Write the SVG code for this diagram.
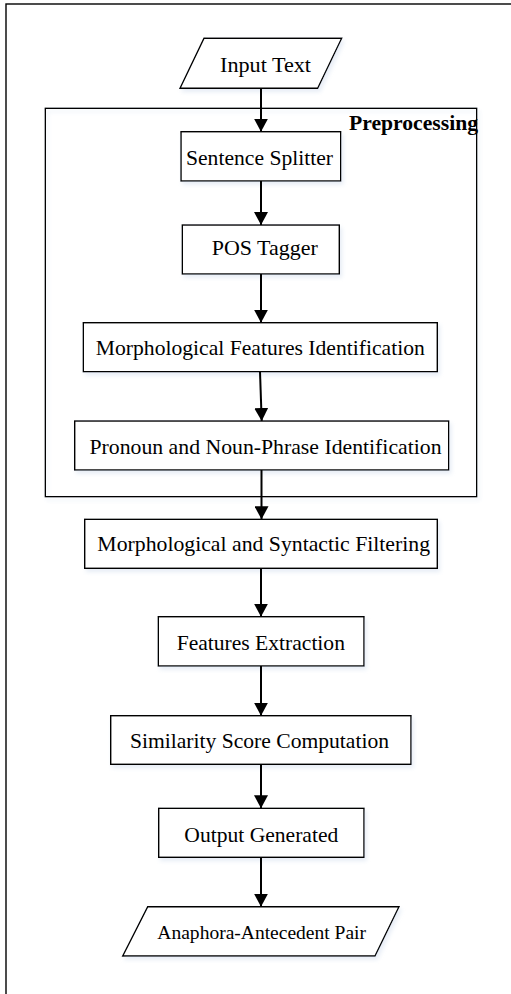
<svg xmlns="http://www.w3.org/2000/svg" width="511" height="994" viewBox="0 0 511 994">
  <style>
    .box { fill: #ffffff; stroke: #000000; stroke-width: 1.4; }
    .frame { fill: none; stroke: #000000; stroke-width: 1.4; }
    .lbl { font-family: "Liberation Serif", "Times New Roman", serif; font-size: 22px; fill: #000000; text-anchor: middle; }
    .small { font-size: 19px; }
    .title { font-family: "Liberation Serif", "Times New Roman", serif; font-size: 21px; font-weight: bold; fill: #000000; }
    .conn { stroke: #000000; stroke-width: 2; fill: none; marker-end: url(#arrow); }
  </style>
  <defs>
    <marker id="arrow" viewBox="0 0 13 14" refX="13" refY="7" markerWidth="13" markerHeight="14" markerUnits="userSpaceOnUse" orient="auto">
      <path d="M0,0 L13,7 L0,14 Z" fill="#000000"/>
    </marker>
    <filter id="shadow" x="-10%" y="-20%" width="125%" height="150%">
      <feGaussianBlur in="SourceAlpha" stdDeviation="2"/>
      <feOffset dx="2" dy="3" result="b"/>
      <feFlood flood-color="#c9d6ea" flood-opacity="0.45"/>
      <feComposite in2="b" operator="in"/>
      <feMerge><feMergeNode/><feMergeNode in="SourceGraphic"/></feMerge>
    </filter>
  </defs>

  <rect x="0" y="0" width="511" height="994" fill="#ffffff"/>
  <rect class="frame" x="6" y="4" width="520" height="1010"/>

  <g id="preprocessing">
    <rect class="frame" x="45.3" y="108.3" width="431.4" height="388.4" filter="url(#shadow)"/>
    <text class="title" x="349" y="130" textLength="129" lengthAdjust="spacingAndGlyphs">Preprocessing</text>
  </g>

  <g id="input-text">
    <polygon class="box" points="204,38.3 341.7,38.3 317.7,88.3 180,88.3" filter="url(#shadow)"/>
    <text class="lbl" x="265.5" y="72" textLength="91" lengthAdjust="spacingAndGlyphs">Input Text</text>
  </g>

  <g id="sentence-splitter">
    <rect class="box" x="181" y="131.7" width="159.7" height="49.3" filter="url(#shadow)"/>
    <text class="lbl" x="259.5" y="165" textLength="147" lengthAdjust="spacingAndGlyphs">Sentence Splitter</text>
  </g>

  <g id="pos-tagger">
    <rect class="box" x="182.3" y="225" width="157" height="49" filter="url(#shadow)"/>
    <text class="lbl" x="264.7" y="255" textLength="106" lengthAdjust="spacingAndGlyphs">POS Tagger</text>
  </g>

  <g id="morph-features">
    <rect class="box" x="83.3" y="322.7" width="354" height="49" filter="url(#shadow)"/>
    <text class="lbl" x="260.3" y="355" textLength="329" lengthAdjust="spacingAndGlyphs">Morphological Features Identification</text>
  </g>

  <g id="pronoun-np">
    <rect class="box" x="74.7" y="421" width="374" height="49" filter="url(#shadow)"/>
    <text class="lbl" x="265.5" y="454.3" textLength="352" lengthAdjust="spacingAndGlyphs">Pronoun and Noun-Phrase Identification</text>
  </g>

  <g id="morph-syntactic">
    <rect class="box" x="84.7" y="519.3" width="352.6" height="49" filter="url(#shadow)"/>
    <text class="lbl" x="263.7" y="550.7" textLength="332.7" lengthAdjust="spacingAndGlyphs">Morphological and Syntactic Filtering</text>
  </g>

  <g id="features-extraction">
    <rect class="box" x="158.3" y="616.7" width="205.7" height="49.3" filter="url(#shadow)"/>
    <text class="lbl" x="260.8" y="650" textLength="168.3" lengthAdjust="spacingAndGlyphs">Features Extraction</text>
  </g>

  <g id="similarity-score">
    <rect class="box" x="110.7" y="715.7" width="300.3" height="48.6" filter="url(#shadow)"/>
    <text class="lbl" x="259.5" y="748.3" textLength="259" lengthAdjust="spacingAndGlyphs">Similarity Score Computation</text>
  </g>

  <g id="output-generated">
    <rect class="box" x="158.7" y="808.3" width="205.3" height="49" filter="url(#shadow)"/>
    <text class="lbl" x="261.3" y="841.7" textLength="154" lengthAdjust="spacingAndGlyphs">Output Generated</text>
  </g>

  <g id="anaphora-pair">
    <polygon class="box" points="147.7,906.7 399,906.7 375,956 122.7,956" filter="url(#shadow)"/>
    <text class="lbl small" x="261.7" y="939.3" textLength="208.7" lengthAdjust="spacingAndGlyphs">Anaphora-Antecedent Pair</text>
  </g>

  <g id="connectors">
    <line class="conn" x1="261" y1="88.3" x2="261" y2="131.7"/>
    <line class="conn" x1="261" y1="181" x2="261" y2="225"/>
    <line class="conn" x1="261" y1="274" x2="261" y2="322.7"/>
    <line class="conn" x1="260" y1="371.7" x2="261.7" y2="421"/>
    <line class="conn" x1="261.5" y1="470" x2="261.5" y2="519.3"/>
    <line class="conn" x1="261" y1="568.3" x2="261" y2="616.7"/>
    <line class="conn" x1="261" y1="666" x2="261" y2="715.7"/>
    <line class="conn" x1="261" y1="764.3" x2="261" y2="808.3"/>
    <line class="conn" x1="261" y1="857.3" x2="261" y2="906.7"/>
  </g>
</svg>
